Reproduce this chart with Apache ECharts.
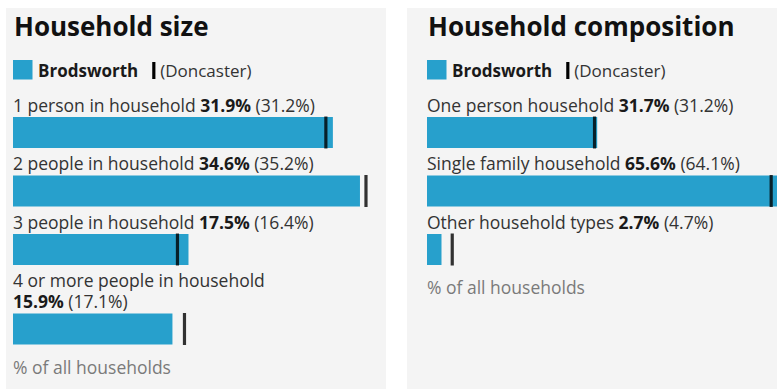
<!DOCTYPE html>
<html>
<head>
<meta charset="utf-8">
<script src="https://cdn.jsdelivr.net/npm/echarts@6/dist/echarts.min.js"></script>
<style>
  html, body { margin: 0; padding: 0; background: #ffffff; }
  #chart { width: 777px; height: 389px; }
</style>
</head>
<body>
<div id="chart"></div>
<script>
// Household size: Brodsworth vs Doncaster (% of all households)
const sizeCategories = ['1 person in household', '2 people in household', '3 people in household', '4 or more people in household'];
const sizeArea = [31.9, 34.6, 17.5, 15.9];
const sizeDistrict = [31.2, 35.2, 16.4, 17.1];

// Household composition: Brodsworth vs Doncaster (% of all households)
const compCategories = ['One person household', 'Single family household', 'Other household types'];
const compArea = [31.7, 65.6, 2.7];
const compDistrict = [31.2, 64.1, 4.7];

const areaName = 'Brodsworth';
const districtName = 'Doncaster';
const footerText = '% of all households';

const FONT = '"Open Sans", "Noto Sans", sans-serif';
const BODY_PX = 17.5;
const KEY_PX = 17;
const TITLE_PX = 26;
const BLUE = '#27a0cc';
const PANEL_BG = '#f4f4f4';
const TEXT = '#333333';
const STRONG = '#1a1a1a';
const MUTED = '#7a7a7a';

const BAR_H = 31;
const LINE_H = 21;
const LABEL_GAP = 6.5;
const FIRST_BAR_TOP = 117;

const panels = [
  { title: 'Household size', bgX: 6, bgW: 380, x: 13, axisMax: 36, axisWidth: 361, textWidth: 362,
    cats: sizeCategories, area: sizeArea, district: sizeDistrict },
  { title: 'Household composition', bgX: 407, bgW: 370, x: 427, axisMax: 65, axisWidth: 349, textWidth: 362,
    cats: compCategories, area: compArea, district: compDistrict }
];

// text measuring, used to decide whether a row label needs a second line
const measureCtx = document.createElement('canvas').getContext('2d');
function textWidth(str, weight, px) {
  measureCtx.font = weight + ' ' + px + 'px ' + FONT;
  return measureCtx.measureText(str).width;
}
const fmt = v => v.toFixed(1) + '%';

const grids = [], xAxes = [], yAxes = [], series = [], graphics = [];

panels.forEach((p) => {
  // panel background, title and key
  graphics.push({ type: 'rect', left: p.bgX, top: 8, shape: { width: p.bgW, height: 381 },
    style: { fill: PANEL_BG }, silent: true, z: -10 });
  graphics.push({ type: 'text', x: p.x + 1, y: 26, style: { text: p.title, font: 'bold ' + TITLE_PX + 'px ' + FONT,
    fill: '#111111', verticalAlign: 'middle' } });
  graphics.push({ type: 'rect', shape: { x: p.x, y: 60, width: 19.5, height: 19.5 }, style: { fill: BLUE } });
  const nameW = textWidth(areaName, 'bold', KEY_PX);
  graphics.push({ type: 'text', x: p.x + 25, y: 70, style: { text: areaName, font: 'bold ' + KEY_PX + 'px ' + FONT,
    fill: STRONG, verticalAlign: 'middle' } });
  const tickX = p.x + 25 + nameW + 14;
  graphics.push({ type: 'rect', shape: { x: tickX, y: 62, width: 3.2, height: 17 }, style: { fill: '#000000' } });
  graphics.push({ type: 'text', x: tickX + 8, y: 70, style: { text: '(' + districtName + ')', font: KEY_PX + 'px ' + FONT,
    fill: TEXT, verticalAlign: 'middle' } });

  // one grid per row so each bar sits under its own label block
  let cursor = FIRST_BAR_TOP - LINE_H - LABEL_GAP;
  p.cats.forEach((cat, i) => {
    const full = cat + ' ' + fmt(p.area[i]) + ' (' + fmt(p.district[i]) + ')';
    const wrap = textWidth(full, 'normal', BODY_PX) > p.textWidth;
    const lines = wrap ? 2 : 1;
    const barTop = cursor + lines * LINE_H + LABEL_GAP;
    cursor = barTop + BAR_H;

    const gi = grids.length;
    grids.push({ left: p.x, top: barTop, width: p.axisWidth, height: BAR_H, containLabel: false });
    xAxes.push({ gridIndex: gi, type: 'value', min: 0, max: p.axisMax, show: false });
    yAxes.push({ gridIndex: gi, type: 'category', data: [cat], show: false });

    const labelStr = '{n|' + cat + '}' + (wrap ? '\n' : '{n| }') + '{b|' + fmt(p.area[i]) + '}{p| (' + fmt(p.district[i]) + ')}';
    series.push({
      type: 'bar', xAxisIndex: gi, yAxisIndex: gi, name: areaName,
      data: [p.area[i]], barWidth: BAR_H, itemStyle: { color: BLUE },
      clip: false, silent: true, animation: false,
      label: {
        show: true, position: [0, -2], align: 'left', verticalAlign: 'bottom',
        formatter: () => labelStr,
        rich: {
          n: { fontFamily: FONT, fontSize: BODY_PX, color: TEXT, lineHeight: LINE_H },
          b: { fontFamily: FONT, fontSize: BODY_PX, fontWeight: 'bold', color: STRONG, lineHeight: LINE_H },
          p: { fontFamily: FONT, fontSize: BODY_PX, color: TEXT, lineHeight: LINE_H }
        }
      }
    });
    series.push({
      type: 'scatter', xAxisIndex: gi, yAxisIndex: gi, name: districtName,
      data: [[p.district[i], 0]], symbol: 'rect', symbolSize: [3.2, BAR_H + 1],
      itemStyle: { color: '#000000' }, silent: true, animation: false, z: 5
    });
  });

  graphics.push({ type: 'text', x: p.x, y: cursor + 22, style: { text: footerText, font: BODY_PX + 'px ' + FONT,
    fill: MUTED, verticalAlign: 'middle' } });
});

const chart = echarts.init(document.getElementById('chart'), null, { renderer: 'svg' });
chart.setOption({
  animation: false,
  backgroundColor: '#ffffff',
  grid: grids,
  xAxis: xAxes,
  yAxis: yAxes,
  series: series,
  graphic: graphics
});
</script>
</body>
</html>
